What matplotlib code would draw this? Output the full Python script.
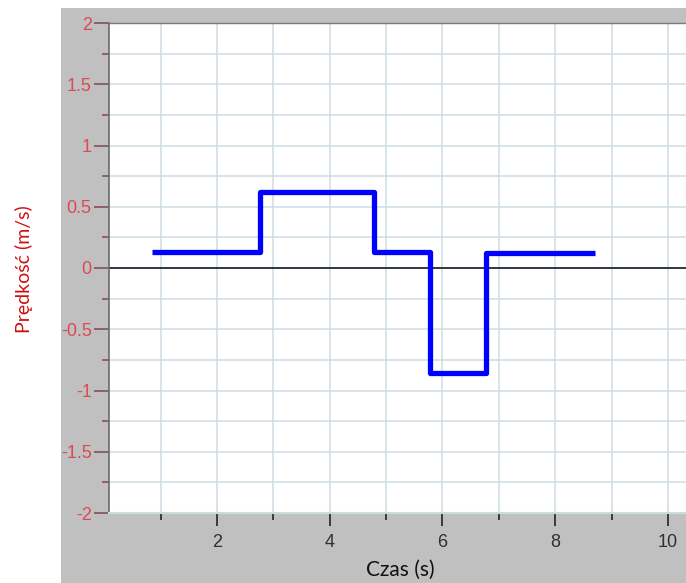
import matplotlib
matplotlib.use("Agg")
import matplotlib.pyplot as plt
from matplotlib.patches import Rectangle
import numpy as np

# Data (step velocity profile)
t_edges = [0.85, 2.77, 4.79, 5.78, 6.77, 8.7]
v_levels = [0.13, 0.62, 0.13, -0.86, 0.12]
x_major = [2, 4, 6, 8, 10]
x_minor = [1, 3, 5, 7, 9]
y_major = [-2, -1.5, -1, -0.5, 0, 0.5, 1, 1.5, 2]
y_major_labels = ["-2", "-1.5", "-1", "-0.5", "0", "0.5", "1", "1.5", "2"]
y_minor = [-1.75, -1.25, -0.75, -0.25, 0.25, 0.75, 1.25, 1.75]
xlabel = "Czas (s)"
ylabel = "Prędkość (m/s)"

plt.rcParams["font.family"] = ["Liberation Sans", "DejaVu Sans"]

W, H = 686, 583
fig = plt.figure(figsize=(W / 100, H / 100), dpi=100)
fig.patch.set_facecolor("white")
bg = Rectangle((61 / W, 0), 1 - 61 / W, (H - 8) / H,
               transform=fig.transFigure, facecolor="#c0c0c0",
               edgecolor="none", zorder=-5)
fig.patches.append(bg)

left, right, top, bottom = 109, 686, 23, 513
ax = fig.add_axes([left / W, (H - bottom) / H, (right - left) / W, (bottom - top) / H])
ax.set_zorder(2)
ax.set_facecolor("white")
ax.set_xlim(0.085, 10.32)
ax.set_ylim(-2, 2)

# grid
for x in range(1, 11):
    ax.axvline(x, color="#cddde3", lw=1.1, zorder=1)
for y in np.arange(-1.75, 2.0, 0.25):
    ax.axhline(y, color="#cddde3", lw=1.1, zorder=1)
ax.axhline(0, color="#1a1a2a", lw=1.2, zorder=2)

# step line
xs = []
ys = []
for i, v in enumerate(v_levels):
    xs += [t_edges[i], t_edges[i + 1]]
    ys += [v, v]
ax.plot(xs, ys, color="#0000ff", lw=3.8, solid_joinstyle="round",
        solid_capstyle="butt", zorder=3)

# spines
ax.spines["right"].set_visible(False)
ax.spines["left"].set_color("#6a6a6a")
ax.spines["left"].set_linewidth(1.2)
ax.spines["top"].set_color("#7a7a7a")
ax.spines["top"].set_linewidth(1.0)
ax.spines["bottom"].set_color("#c8dde0")
ax.spines["bottom"].set_linewidth(1.5)

# ticks
ax.set_xticks(x_major)
ax.set_xticks(x_minor, minor=True)
ax.set_yticks(y_major)
ax.set_yticklabels(y_major_labels)
ax.set_yticks(y_minor, minor=True)
ax.tick_params(axis="x", which="major", direction="out", length=9, width=1.3,
               color="#303030", labelsize=13, labelcolor="#303030", pad=6)
ax.tick_params(axis="x", which="minor", direction="out", length=5, width=1.3,
               color="#303030")
ax.tick_params(axis="y", which="major", direction="out", length=11, width=1.3,
               color="#8a5a5a", labelsize=13, labelcolor="#dc4a55", pad=1.5)
ax.tick_params(axis="y", which="minor", direction="out", length=5, width=1.3,
               color="#8a5a5a")
for lab in ax.get_yticklabels():
    lab.set_clip_path(bg)

fig.text(400 / W, 1 - 570 / H, xlabel, ha="center", va="center",
         fontsize=15, family="Lato", color="#111111")
fig.text(24 / W, 1 - 269 / H, ylabel, ha="center", va="center", rotation=90,
         fontsize=14, family="Lato", color="#d01010")

fig.savefig("out.png", dpi=100)
